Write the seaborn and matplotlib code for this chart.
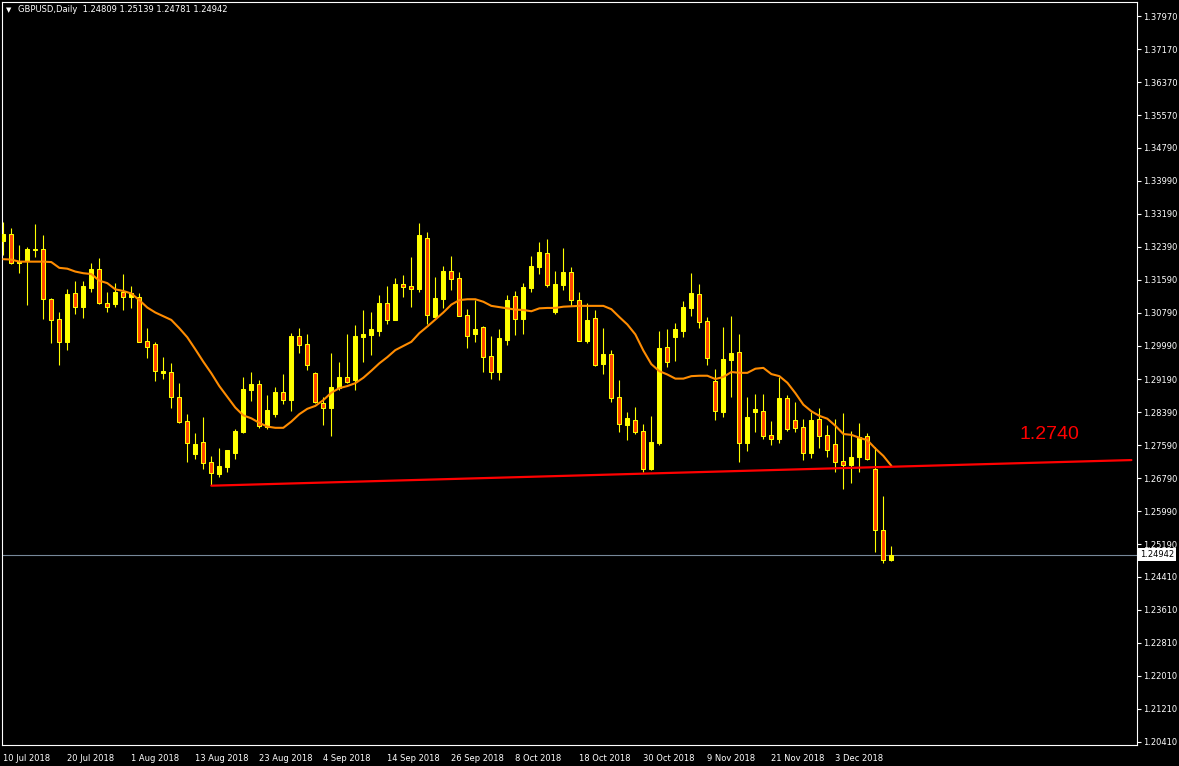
"""
GBPUSD daily candles with moving average and neckline
"""
import matplotlib
matplotlib.use('Agg')
import matplotlib.pyplot as plt
import numpy as np
import pandas as pd
import seaborn as sns

symbol = 'GBPUSD,Daily'
first_day = '2018-07-10'

opens = [1.3254, 1.3269, 1.3200, 1.3205, 1.3230, 1.3233, 1.3112, 1.3064, 1.3009, 1.3126,
         1.3094, 1.3140, 1.3184, 1.3102, 1.3101, 1.3130, 1.3117, 1.3118, 1.3011, 1.3003,
         1.2934, 1.2936, 1.2875, 1.2817, 1.2738, 1.2766, 1.2718, 1.2690, 1.2707, 1.2741,
         1.2792, 1.2893, 1.2907, 1.2804, 1.2835, 1.2887, 1.2868, 1.3023, 1.3004, 1.2934,
         1.2860, 1.2850, 1.2898, 1.2924, 1.2917, 1.3021, 1.3025, 1.3036, 1.3103, 1.3063,
         1.3149, 1.3144, 1.3137, 1.3260, 1.3070, 1.3113, 1.3180, 1.3163, 1.3073, 1.3029,
         1.3045, 1.2975, 1.2935, 1.3013, 1.3120, 1.3064, 1.3140, 1.3190, 1.3224, 1.3082,
         1.3146, 1.3178, 1.3110, 1.3012, 1.3067, 1.2955, 1.2980, 1.2876, 1.2809, 1.2820,
         1.2793, 1.2701, 1.2764, 1.2996, 1.3021, 1.3036, 1.3092, 1.3125, 1.3059, 1.2914,
         1.2840, 1.2966, 1.2984, 1.2765, 1.2840, 1.2842, 1.2784, 1.2773, 1.2874, 1.2820,
         1.2803, 1.2740, 1.2822, 1.2784, 1.2762, 1.2721, 1.2710, 1.2730, 1.2780, 1.2701,
         1.2553, 1.24809]
highs = [1.3299, 1.3284, 1.3243, 1.3239, 1.3294, 1.3267, 1.3115, 1.3080, 1.3137, 1.3156,
         1.3156, 1.3199, 1.3213, 1.3130, 1.3151, 1.3173, 1.3144, 1.3127, 1.3042, 1.3009,
         1.2972, 1.2958, 1.2909, 1.2834, 1.2789, 1.2826, 1.2733, 1.2752, 1.2748, 1.2798,
         1.2924, 1.2936, 1.2917, 1.2880, 1.2899, 1.2931, 1.3030, 1.3042, 1.3028, 1.2935,
         1.2875, 1.2982, 1.2960, 1.3028, 1.3050, 1.3086, 1.3081, 1.3122, 1.3144, 1.3163,
         1.3171, 1.3214, 1.3296, 1.3275, 1.3166, 1.3192, 1.3217, 1.3178, 1.3088, 1.3110,
         1.3047, 1.3023, 1.3040, 1.3122, 1.3132, 1.3151, 1.3217, 1.3251, 1.3258, 1.3180,
         1.3236, 1.3190, 1.3130, 1.3103, 1.3086, 1.3042, 1.2989, 1.2917, 1.2839, 1.2851,
         1.2811, 1.2830, 1.3035, 1.3040, 1.3055, 1.3108, 1.3176, 1.3149, 1.3069, 1.2943,
         1.3045, 1.3072, 1.3028, 1.2876, 1.2883, 1.2883, 1.2817, 1.2924, 1.2880, 1.2863,
         1.2823, 1.2839, 1.2849, 1.2808, 1.2823, 1.2837, 1.2794, 1.2812, 1.2789, 1.2755,
         1.2636, 1.25139]
lows = [1.3219, 1.3197, 1.3176, 1.3098, 1.3215, 1.3064, 1.3007, 1.2954, 1.2989, 1.3077,
        1.3067, 1.3130, 1.3100, 1.3080, 1.3094, 1.3087, 1.3092, 1.3008, 1.2971, 1.2915,
        1.2920, 1.2850, 1.2813, 1.2719, 1.2726, 1.2701, 1.2663, 1.2683, 1.2694, 1.2726,
        1.2788, 1.2867, 1.2801, 1.2797, 1.2826, 1.2859, 1.2842, 1.2983, 1.2941, 1.2862,
        1.2808, 1.2782, 1.2893, 1.2909, 1.2893, 1.2960, 1.2976, 1.3024, 1.3052, 1.3062,
        1.3117, 1.3094, 1.3130, 1.3053, 1.3069, 1.3092, 1.3135, 1.3071, 1.2995, 1.3009,
        1.2937, 1.2920, 1.2917, 1.3001, 1.3025, 1.3028, 1.3130, 1.3173, 1.3142, 1.3076,
        1.3134, 1.3096, 1.3011, 1.3007, 1.2950, 1.2931, 1.2864, 1.2792, 1.2772, 1.2787,
        1.2693, 1.2698, 1.2760, 1.2949, 1.2963, 1.3020, 1.3072, 1.3043, 1.2954, 1.2821,
        1.2828, 1.2876, 1.2719, 1.2746, 1.2790, 1.2773, 1.2759, 1.2764, 1.2794, 1.2790,
        1.2722, 1.2729, 1.2753, 1.2730, 1.2695, 1.2654, 1.2667, 1.2695, 1.2724, 1.2501,
        1.2475, 1.24781]
closes = [1.3270, 1.3199, 1.3205, 1.3234, 1.3234, 1.3112, 1.3063, 1.3009, 1.3125, 1.3094,
          1.3144, 1.3184, 1.3102, 1.3094, 1.3130, 1.3118, 1.3126, 1.3009, 1.2997, 1.2938,
          1.2938, 1.2875, 1.2816, 1.2764, 1.2763, 1.2717, 1.2691, 1.2709, 1.2747, 1.2793,
          1.2895, 1.2907, 1.2805, 1.2844, 1.2888, 1.2868, 1.3023, 1.3002, 1.2954, 1.2864,
          1.2850, 1.2900, 1.2924, 1.2913, 1.3023, 1.3029, 1.3040, 1.3103, 1.3063, 1.3149,
          1.3142, 1.3138, 1.3267, 1.3075, 1.3114, 1.3180, 1.3162, 1.3072, 1.3024, 1.3040,
          1.2973, 1.2935, 1.3018, 1.3110, 1.3064, 1.3142, 1.3192, 1.3226, 1.3147, 1.3149,
          1.3178, 1.3110, 1.3012, 1.3062, 1.2953, 1.2980, 1.2874, 1.2811, 1.2825, 1.2792,
          1.2702, 1.2767, 1.2993, 1.2961, 1.3040, 1.3093, 1.3126, 1.3058, 1.2971, 1.2842,
          1.2967, 1.2982, 1.2765, 1.2827, 1.2847, 1.2782, 1.2774, 1.2874, 1.2799, 1.2801,
          1.2741, 1.2820, 1.2780, 1.2748, 1.2719, 1.2712, 1.2731, 1.2778, 1.2725, 1.2555,
          1.2482, 1.24942]
ma_values = [1.3209, 1.3208, 1.3203, 1.3203, 1.3203, 1.3203, 1.3202, 1.3188, 1.3186, 1.3179,
             1.3175, 1.3173, 1.3157, 1.3151, 1.3136, 1.3132, 1.3126, 1.3110, 1.3092, 1.3080,
             1.3071, 1.3062, 1.3042, 1.3020, 1.2991, 1.2961, 1.2933, 1.2902, 1.2876, 1.2850,
             1.2831, 1.2824, 1.2813, 1.2804, 1.2801, 1.2801, 1.2816, 1.2834, 1.2847, 1.2854,
             1.2868, 1.2886, 1.2897, 1.2902, 1.2909, 1.2922, 1.2939, 1.2957, 1.2972, 1.2989,
             1.2999, 1.3009, 1.3030, 1.3046, 1.3063, 1.3080, 1.3099, 1.3110, 1.3112, 1.3112,
             1.3106, 1.3096, 1.3093, 1.3090, 1.3087, 1.3086, 1.3083, 1.3090, 1.3091, 1.3091,
             1.3094, 1.3095, 1.3096, 1.3096, 1.3096, 1.3096, 1.3088, 1.3069, 1.3051, 1.3027,
             1.2988, 1.2955, 1.2938, 1.2930, 1.2920, 1.2920, 1.2926, 1.2927, 1.2927, 1.2919,
             1.2924, 1.2936, 1.2934, 1.2934, 1.2944, 1.2946, 1.2931, 1.2926, 1.2910, 1.2885,
             1.2857, 1.2841, 1.2830, 1.2823, 1.2806, 1.2786, 1.2784, 1.2777, 1.2771, 1.2751,
             1.2733, 1.2709]

# neckline drawn as a trend line (bar index, price)
neckline_bars = [26, 141]
neckline_prices = [1.2661, 1.2723]
level_text = '1.2740'

date_labels = ['10 Jul 2018', '20 Jul 2018', '1 Aug 2018', '13 Aug 2018', '23 Aug 2018',
               '4 Sep 2018', '14 Sep 2018', '26 Sep 2018', '8 Oct 2018', '18 Oct 2018',
               '30 Oct 2018', '9 Nov 2018', '21 Nov 2018', '3 Dec 2018']
price_ticks = [1.37970, 1.37170, 1.36370, 1.35570, 1.34790, 1.33990, 1.33190, 1.32390,
               1.31590, 1.30790, 1.29990, 1.29190, 1.28390, 1.27590, 1.26790, 1.25990,
               1.25190, 1.24410, 1.23610, 1.22810, 1.22010, 1.21210, 1.20410]

BULL = '#FFFF00'
BEAR = '#FF4500'
MA_COLOR = '#FF8C00'

#%% data
df = pd.DataFrame({'date': pd.bdate_range(first_day, periods=len(opens)),
                   'open': opens, 'high': highs, 'low': lows, 'close': closes,
                   'ma': ma_values})
df['bar'] = np.arange(len(df))
df['bull'] = df['close'] >= df['open']
df['body_lo'] = df[['open', 'close']].min(axis=1)
df['body_h'] = (df['close'] - df['open']).abs().clip(lower=0.00005)

label_dates = pd.to_datetime(date_labels, format='%d %b %Y')
tick_bars = df.set_index('date').loc[label_dates, 'bar'].values

#%% plot
sns.set_style('dark', {'axes.facecolor': 'black', 'figure.facecolor': 'black',
                       'axes.edgecolor': 'white', 'text.color': 'white',
                       'xtick.color': 'white', 'ytick.color': 'white',
                       'axes.grid': False})
plt.rcParams['font.family'] = ['DejaVu Sans']

W, H = 1179, 766
fig = plt.figure(figsize=(W / 100, H / 100), dpi=100)
ax = fig.add_axes([2 / W, 1 - 745 / H, 1135 / W, 743 / H])

# wicks
ax.vlines(df['bar'], df['low'], df['high'], color=BULL, linewidth=0.8, zorder=2)
# bodies
up = df[df['bull']]
dn = df[~df['bull']]
ax.bar(up['bar'], up['body_h'], bottom=up['body_lo'], width=0.52,
       color=BULL, edgecolor=BULL, linewidth=0.75, zorder=3)
ax.bar(dn['bar'], dn['body_h'], bottom=dn['body_lo'], width=0.52,
       color=BEAR, edgecolor=BULL, linewidth=0.75, zorder=3)

sns.lineplot(data=df, x='bar', y='ma', color=MA_COLOR, linewidth=1.5, ax=ax, zorder=4)
sns.lineplot(x=neckline_bars, y=neckline_prices, color='#FF0000', linewidth=1.6,
             ax=ax, zorder=5)
ax.text(130.7, 1.2784, level_text, color='#FF0000', fontsize=14,
        family='Liberation Sans', ha='center', va='center')

# bid line and label
last = df.iloc[-1]
ax.axhline(last['close'], color='#778899', linewidth=0.8, zorder=1)
ax.text(1.0 + 3 / 1135, last['close'], f"{last['close']:.5f}",
        transform=ax.get_yaxis_transform(), ha='left', va='center',
        color='black', fontsize=6, clip_on=False,
        bbox=dict(facecolor='white', edgecolor='none', pad=1.2))

ax.set_xlim(-0.16, 141.7)
ax.set_ylim(1.20337, 1.38311)
ax.set_xlabel('')
ax.set_ylabel('')

ax.yaxis.tick_right()
ax.set_yticks(price_ticks)
ax.set_yticklabels([f'{p:.5f}' for p in price_ticks])
ax.set_xticks(tick_bars)
ax.set_xticklabels(date_labels, ha='left')
ax.tick_params(axis='both', direction='out', length=3, width=0.8,
               colors='white', labelsize=6)
ax.tick_params(axis='y', pad=1.5)
ax.tick_params(axis='x', pad=3.5)
for s in ax.spines.values():
    s.set_color('white')
    s.set_linewidth(0.8)

# chart header
fig.text(6 / W, 1 - 10 / H, '\u25bc', fontsize=5, color='white', va='center')
fig.text(18 / W, 1 - 10 / H,
         f"{symbol}  {last['open']:.5f} {last['high']:.5f} {last['low']:.5f} {last['close']:.5f}",
         fontsize=6, color='white', va='center')

fig.savefig('out.png', dpi=100, facecolor='black')
